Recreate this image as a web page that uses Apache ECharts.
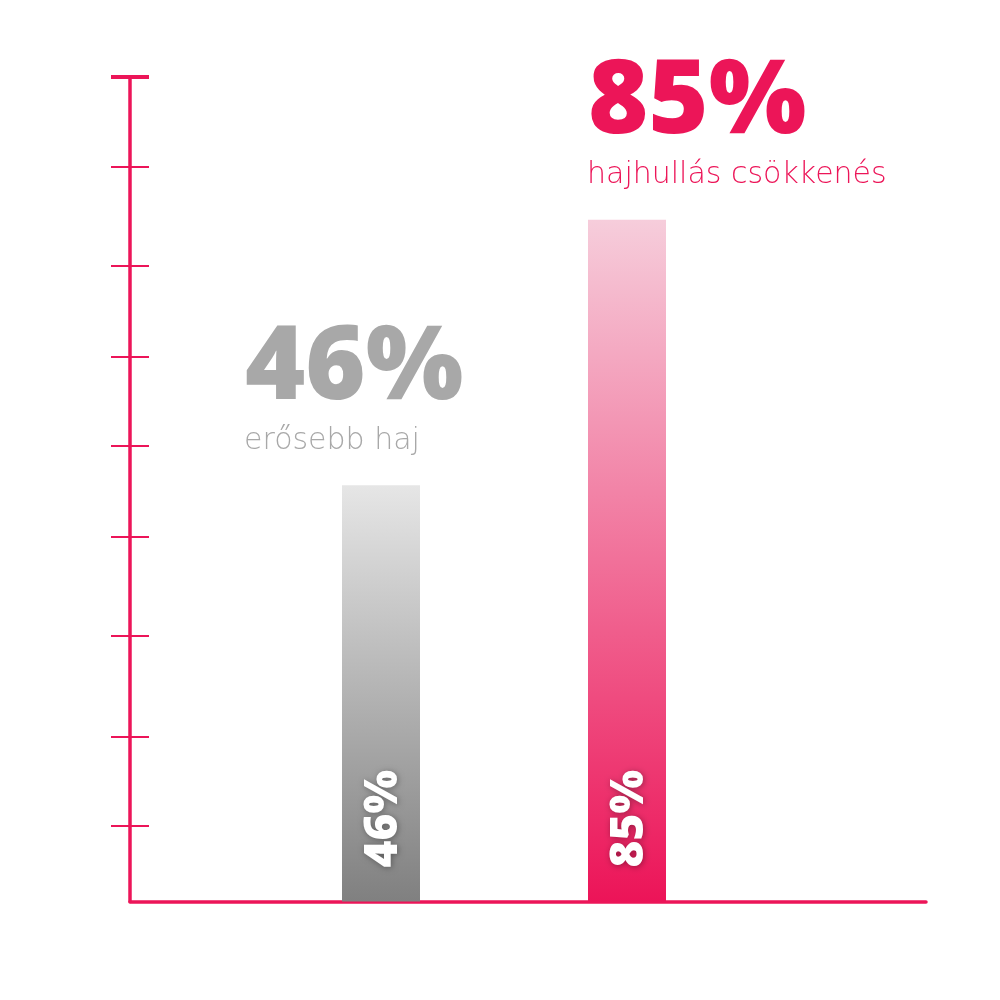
<!DOCTYPE html>
<html>
<head>
<meta charset="utf-8">
<script src="https://cdn.jsdelivr.net/npm/echarts@6/dist/echarts.min.js"></script>
<style>
  html, body { margin: 0; padding: 0; background: #ffffff; }
  #chart { width: 1000px; height: 1000px; }
</style>
</head>
<body>
<div id="chart"></div>
<script>
// ---- data ----
const categories = ['erősebb haj', 'hajhullás csökkenés'];
const percentValues = [46, 85];            // numbers printed on the chart
const barHeights = [50.5, 82.7];            // drawn bar heights on the 0–100 axis
const tickValues = [9.16, 20.04, 32.2, 44.29, 55.25, 66.12, 77.08, 89.17];
const axisMin = 0;
const axisMax = 100;

// ---- styles ----
const PINK = '#ec1558';
const GRAY_TEXT = '#a8a8a8';
const FONT = "'Open Sans', sans-serif";
const CAPTION_FONT = "'DejaVu Sans', sans-serif";
const barGradients = [
  ['#e6e6e6', '#808080'],
  ['#f6cddb', '#ec1458']
];
const headColors = [GRAY_TEXT, PINK];
const headOffsetX = [-136, -39];

const chart = echarts.init(document.getElementById('chart'), null, { renderer: 'canvas' });

function grad(c) {
  return new echarts.graphic.LinearGradient(0, 0, 0, 1, [
    { offset: 0, color: c[0] },
    { offset: 1, color: c[1] }
  ]);
}

const option = {
  animation: false,
  backgroundColor: '#ffffff',
  grid: [
    { left: 130, right: 74, top: 77, bottom: 98.5, containLabel: false },
    { left: 258, width: 492, top: 77, bottom: 98.5, containLabel: false }
  ],
  xAxis: [
    {
      gridIndex: 0, type: 'value', min: 0, max: 1,
      axisLine: { show: true, onZero: false, lineStyle: { color: PINK, width: 3.5 } },
      axisTick: { show: false }, axisLabel: { show: false }, splitLine: { show: false }
    },
    {
      gridIndex: 1, type: 'category', data: categories, show: false
    }
  ],
  yAxis: [
    {
      gridIndex: 0, type: 'value', min: axisMin, max: axisMax, position: 'left',
      axisLine: {
        show: true, onZero: false,
        symbol: ['none', 'rect'], symbolSize: [38, 4],
        lineStyle: { color: PINK, width: 3.5 }
      },
      axisTick: { show: true, inside: false, length: 19, customValues: tickValues,
        lineStyle: { color: PINK, width: 2 } },
      axisLabel: { show: false }, splitLine: { show: false }
    },
    {
      gridIndex: 0, type: 'value', min: axisMin, max: axisMax, position: 'left', offset: 0,
      axisLine: { show: false },
      axisTick: { show: true, inside: true, length: 19, customValues: tickValues,
        lineStyle: { color: PINK, width: 2 } },
      axisLabel: { show: false }, splitLine: { show: false }
    },
    {
      gridIndex: 1, type: 'value', min: axisMin, max: axisMax, show: false
    }
  ],
  series: [
    {
      type: 'bar', xAxisIndex: 1, yAxisIndex: 2, barWidth: 78, barGap: '-100%',
      silent: true,
      data: barHeights.map((v, i) => ({ value: v, itemStyle: { color: grad(barGradients[i]) } })),
      label: {
        show: true, position: 'insideBottom', distance: 34, rotate: 90,
        align: 'left', verticalAlign: 'middle', offset: [0, 3],
        formatter: p => percentValues[p.dataIndex] + '%',
        color: '#ffffff', fontFamily: FONT, fontWeight: 800, fontSize: 46,
        textShadowColor: 'rgba(0,0,0,0.35)', textShadowBlur: 6, textShadowOffsetX: 1, textShadowOffsetY: 1
      }
    },
    {
      type: 'bar', xAxisIndex: 1, yAxisIndex: 2, barWidth: 78, barGap: '-100%',
      silent: true,
      itemStyle: { color: 'rgba(0,0,0,0)' },
      data: barHeights.map((v, i) => ({
        value: v,
        label: { color: headColors[i], offset: [headOffsetX[i], 0] }
      })),
      label: {
        show: true, position: 'top', distance: 64, align: 'left',
        formatter: p => percentValues[p.dataIndex] + '%',
        fontFamily: FONT, fontWeight: 800, fontSize: 103
      }
    },
    {
      type: 'bar', xAxisIndex: 1, yAxisIndex: 2, barWidth: 78, barGap: '-100%',
      silent: true,
      itemStyle: { color: 'rgba(0,0,0,0)' },
      data: barHeights.map((v, i) => ({
        value: v,
        label: { color: headColors[i], offset: [headOffsetX[i] - 1, 0] }
      })),
      label: {
        show: true, position: 'top', distance: 29, align: 'left',
        formatter: p => categories[p.dataIndex],
        fontFamily: CAPTION_FONT, fontWeight: 300, fontSize: 30
      }
    }
  ]
};

chart.setOption(option);
</script>
</body>
</html>
